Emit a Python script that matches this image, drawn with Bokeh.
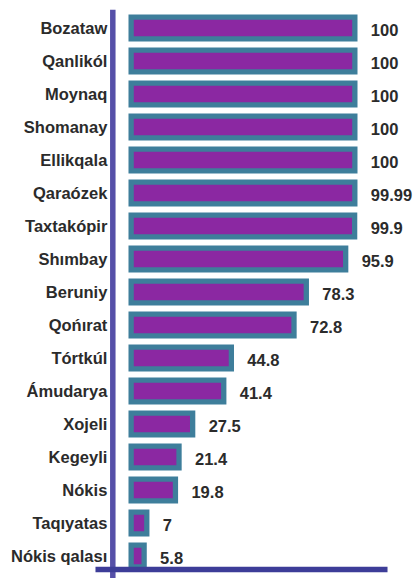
from bokeh.plotting import figure
from bokeh.models import ColumnDataSource, Range1d
from bokeh.core.properties import value
from bokeh.embed import file_html
from bokeh.resources import INLINE

# ---- data ----
districts = ["Bozataw", "Qanlikól", "Moynaq", "Shomanay", "Ellikqala", "Qaraózek",
             "Taxtakópir", "Shımbay", "Beruniy", "Qońırat", "Tórtkúl", "Ámudarya",
             "Xojeli", "Kegeyli", "Nókis", "Taqıyatas", "Nókis qalası"]
values = [100, 100, 100, 100, 100, 99.99, 99.9, 95.9, 78.3, 72.8, 44.8, 41.4,
          27.5, 21.4, 19.8, 7, 5.8]
value_labels = [f"{v:g}" for v in values]

# ---- style ----
FILL = "#8b28a2"
BORDER = "#3e7e9b"
VLINE = "#5650a8"
HLINE = "#3d3d98"
TEXT = "#2b2b2b"
FONT = "Liberation Sans"

rows = list(range(len(districts)))
src = ColumnDataSource(dict(y=rows, v=values, name=districts, lab=value_labels))

p = figure(width=418, height=578, output_backend="svg", toolbar_location=None,
           x_axis_type=None, y_axis_type=None, min_border=0,
           x_range=Range1d(-58.40, 128.45), y_range=Range1d(16.682, -0.833))
p.outline_line_color = None
p.grid.visible = False
p.background_fill_color = "white"

p.hbar(y="y", left=0, right="v", height=0.66, source=src,
       fill_color=FILL, line_color=BORDER, line_width=5.3, line_join="miter")

AXIS_X = -8.2
BASE_Y = 16.406
p.segment(x0=[AXIS_X], y0=[-0.55], x1=[AXIS_X], y1=[16.8],
          line_color=VLINE, line_width=5.5)
p.segment(x0=[-15.94], y0=[BASE_Y], x1=[114.6], y1=[BASE_Y],
          line_color=HLINE, line_width=5.5)

p.text(x=AXIS_X, y="y", text="name", source=src, x_offset=-5.5,
       text_align="right", text_baseline="middle",
       text_font=value(FONT), text_font_style="bold", text_font_size="16.5px",
       text_color=TEXT)
p.text(x="v", y="y", text="lab", source=src, x_offset=16, y_offset=2,
       text_align="left", text_baseline="middle",
       text_font=value(FONT), text_font_style="bold", text_font_size="16.5px",
       text_color=TEXT)

open("out.html", "w").write(file_html(p, INLINE))
